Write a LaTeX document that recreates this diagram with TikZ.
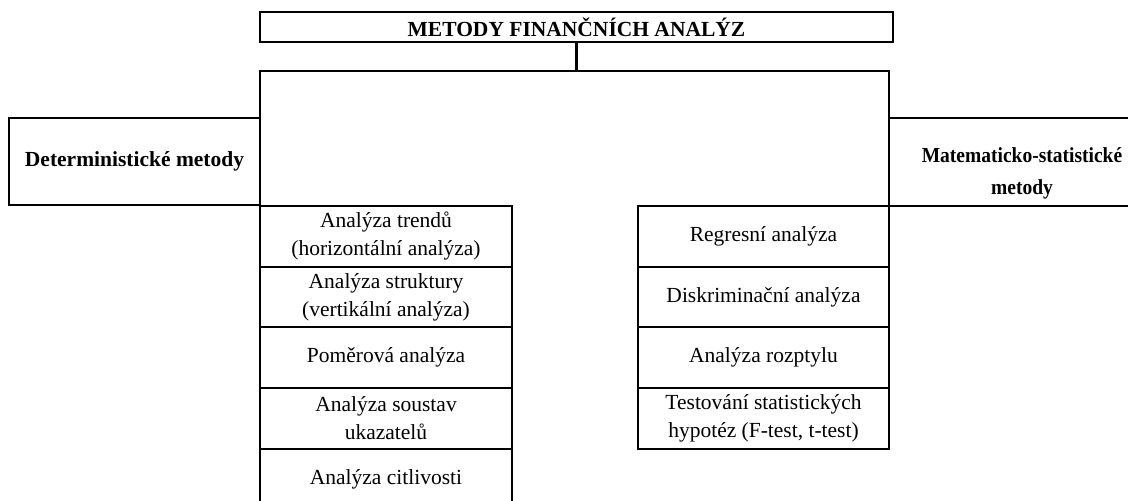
\documentclass[tikz,border=0pt]{standalone}
\usepackage{fontspec}
\setmainfont{Liberation Serif}
\begin{document}
\begin{tikzpicture}[x=1pt,y=-1pt,
  frame/.style={line width=2.2pt},
  cell/.style={draw, line width=2.2pt, inner sep=0pt, align=center,
    font=\fontsize{21.5}{28}\selectfont},
  head/.style={cell, font=\fontsize{21.5}{28}\selectfont\bfseries},
  plain/.style={inner sep=0pt, align=center,
    font=\fontsize{19.5}{29}\selectfont\bfseries}]
\useasboundingbox (0,0) rectangle (1128,501);
\clip (0,0) rectangle (1128,501);

% title
\node[head, minimum width=633pt, minimum height=30pt] (title) at (576.5,27)
  {METODY FINANČNÍCH ANALÝZ};

% branch boxes
\node[head, minimum width=251pt, minimum height=87pt] (det) at (134.5,161.5)
  {Deterministické metody};
\node[cell, minimum width=271pt, minimum height=88pt] (matbox) at (1024.5,162) {};
\node[plain, yscale=1.1] (mat) at (1022,173) {Matematicko-statistické\\metody};

% frame joining the title with both branches
\coordinate (ftl) at (260,71);
\coordinate (ftr) at (889,71);
\coordinate (fbl) at (260,515);
\coordinate (fbr) at (889,448);
\coordinate (fjoin) at (title.south |- ftl);
\draw[frame] (title.south) -- (fjoin);
\draw[frame] (fbl) -- (ftl) -- (ftr) -- (fbr);

% deterministic methods
\begin{scope}[every node/.style={cell, minimum width=252pt, minimum height=60.7pt}]
  \node (d1) at (386,236.3) {Analýza trendů\\(horizontální analýza)};
  \node (d2) at (386,297) {Analýza struktury\\(vertikální analýza)};
  \node (d3) at (386,357.7) {Poměrová analýza};
  \node (d4) at (386,418.3) {Analýza soustav\\ukazatelů};
  \node (d5) at (386,479) {Analýza citlivosti};
\end{scope}

% mathematical-statistical methods
\begin{scope}[every node/.style={cell, minimum width=251pt, minimum height=60.7pt}]
  \node (m1) at (763.5,236.3) {Regresní analýza};
  \node (m2) at (763.5,297) {Diskriminační analýza};
  \node (m3) at (763.5,357.7) {Analýza rozptylu};
  \node (m4) at (763.5,418.3) {Testování statistických\\hypotéz (F-test, t-test)};
\end{scope}
\end{tikzpicture}
\end{document}
